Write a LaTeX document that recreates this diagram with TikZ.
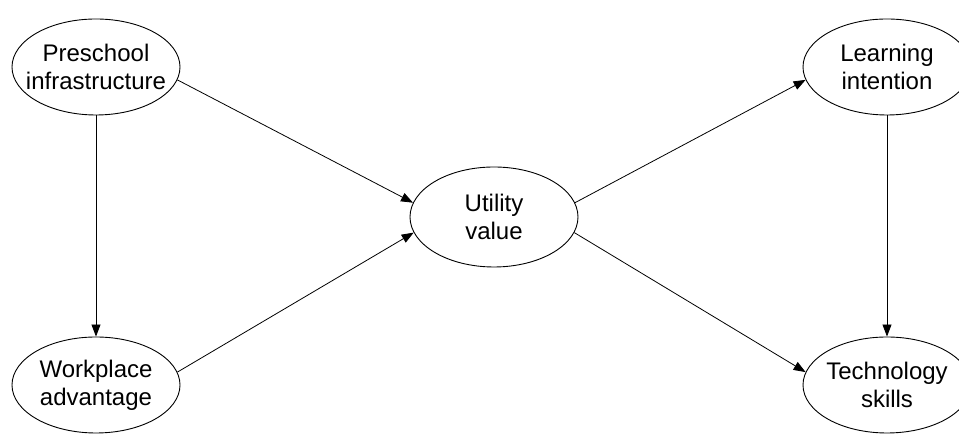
\documentclass[tikz,border=0pt]{standalone}
\usepackage{fontspec}
\setmainfont{Liberation Sans}
\usetikzlibrary{shapes.geometric,arrows.meta}
\begin{document}
\begin{tikzpicture}[x=1pt,y=1pt,
  construct/.style={draw=black, line width=0.9pt, ellipse, minimum width=168pt, minimum height=96pt, inner sep=0pt},
  caption/.style={align=center, font=\fontsize{24}{28}\selectfont, inner sep=0pt},
  link/.style={draw=black, line width=0.8pt, -{Triangle[length=12pt,width=9pt]}}
]
\fill[white] (0,0) rectangle (959,435);
\useasboundingbox (0,0) rectangle (959,435);

% constructs
\node[construct] (pre) at (96,368) {};
\node[construct] (work) at (96,50) {};
\node[construct, minimum height=100pt] (util) at (494,218) {};
\node[construct] (learn) at (887,368) {};
\node[construct] (tech) at (887,50) {};

% labels
\node[caption] (pre-t) at (pre) {Preschool\\infrastructure};
\node[caption] (work-t) at (work) {Workplace\\advantage};
\node[caption] (util-t) at (util) {Utility\\value};
\node[caption] (learn-t) at (learn) {Learning\\intention};
\node[caption] (tech-t) at (tech) {Technology\\skills};

% paths
\draw[link] (pre.south) -- (work.north);
\draw[link] (learn.south) -- (tech.north);
\draw[link] (pre.-9) -- (util.170);
\draw[link] (work.9) -- (util.-169);
\draw[link] (util.10) -- (learn.-171);
\draw[link] (util.-11) -- (tech.171);
\end{tikzpicture}
\end{document}
